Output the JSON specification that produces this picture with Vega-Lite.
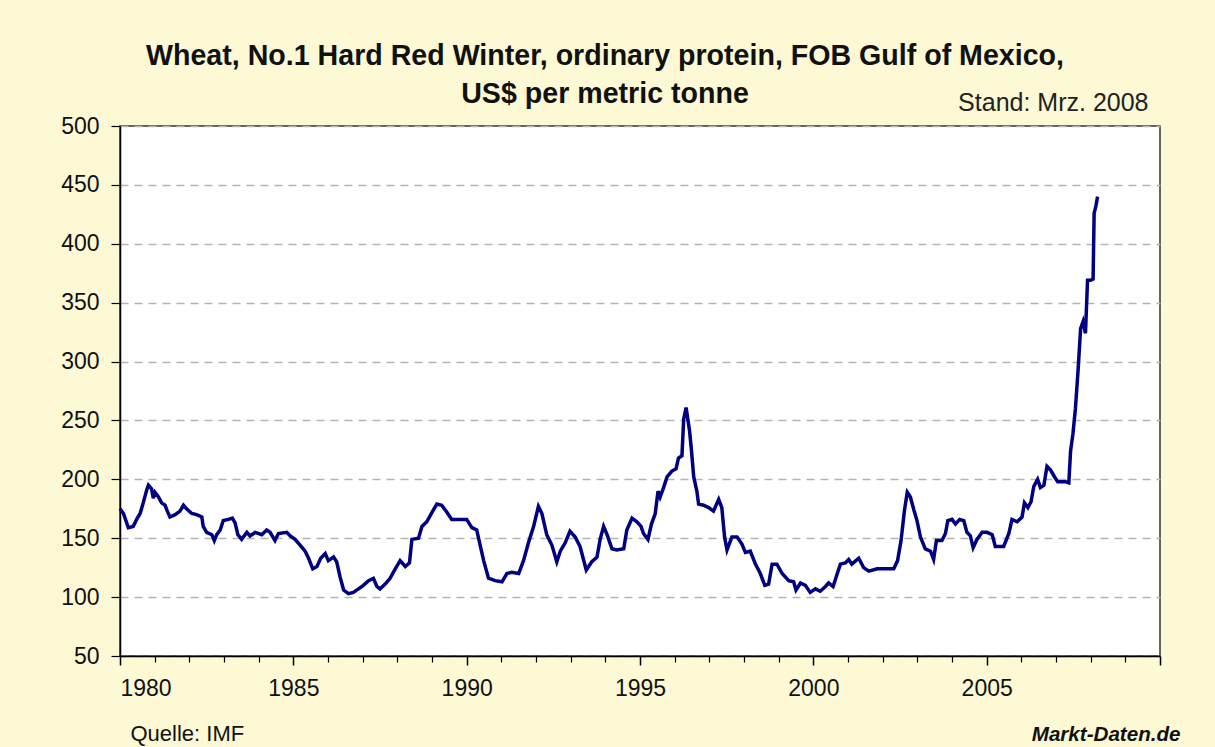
{
  "$schema": "https://vega.github.io/schema/vega-lite/v6.json",
  "width": 1040,
  "height": 530,
  "autosize": "none",
  "padding": {"left": 120, "top": 126, "right": 55, "bottom": 91},
  "background": "#FCF9D4",
  "title": {
    "text": ["Wheat, No.1 Hard Red Winter, ordinary protein, FOB Gulf of Mexico,", "US$ per metric tonne"],
    "font": "Liberation Sans",
    "fontSize": 28.6,
    "fontWeight": "bold",
    "color": "#111111",
    "anchor": "middle",
    "frame": "group",
    "dx": -35,
    "dy": 29,
    "lineHeight": 38,
    "offset": 10
  },
  "config": {
    "view": {"fill": "white", "stroke": "#333333", "strokeWidth": 1.5},
    "font": "Liberation Sans"
  },
  "data": {
    "values": [
      {"t": 1980.00, "v": 175}, {"t": 1980.10, "v": 171}, {"t": 1980.24, "v": 159}, {"t": 1980.38, "v": 160},
      {"t": 1980.48, "v": 166}, {"t": 1980.58, "v": 171}, {"t": 1980.67, "v": 180}, {"t": 1980.77, "v": 191},
      {"t": 1980.82, "v": 195}, {"t": 1980.91, "v": 192}, {"t": 1980.96, "v": 184}, {"t": 1981.01, "v": 189},
      {"t": 1981.11, "v": 185}, {"t": 1981.20, "v": 180}, {"t": 1981.30, "v": 178}, {"t": 1981.35, "v": 174},
      {"t": 1981.44, "v": 168}, {"t": 1981.59, "v": 170}, {"t": 1981.73, "v": 173}, {"t": 1981.83, "v": 178},
      {"t": 1981.92, "v": 175}, {"t": 1982.07, "v": 171}, {"t": 1982.21, "v": 170}, {"t": 1982.36, "v": 168},
      {"t": 1982.40, "v": 160}, {"t": 1982.50, "v": 155}, {"t": 1982.65, "v": 153}, {"t": 1982.72, "v": 148},
      {"t": 1982.79, "v": 153}, {"t": 1982.89, "v": 157}, {"t": 1982.98, "v": 165}, {"t": 1983.13, "v": 166},
      {"t": 1983.24, "v": 167}, {"t": 1983.32, "v": 163}, {"t": 1983.40, "v": 153}, {"t": 1983.51, "v": 149},
      {"t": 1983.66, "v": 155}, {"t": 1983.75, "v": 152}, {"t": 1983.90, "v": 155}, {"t": 1984.09, "v": 153},
      {"t": 1984.23, "v": 157}, {"t": 1984.33, "v": 155}, {"t": 1984.47, "v": 148}, {"t": 1984.57, "v": 154},
      {"t": 1984.81, "v": 155}, {"t": 1984.91, "v": 152}, {"t": 1985.05, "v": 149}, {"t": 1985.20, "v": 144},
      {"t": 1985.34, "v": 139}, {"t": 1985.44, "v": 133}, {"t": 1985.56, "v": 124}, {"t": 1985.68, "v": 126},
      {"t": 1985.79, "v": 133}, {"t": 1985.92, "v": 137}, {"t": 1986.01, "v": 131}, {"t": 1986.16, "v": 134},
      {"t": 1986.25, "v": 130}, {"t": 1986.35, "v": 117}, {"t": 1986.45, "v": 106}, {"t": 1986.59, "v": 103},
      {"t": 1986.73, "v": 104}, {"t": 1986.88, "v": 107}, {"t": 1987.02, "v": 110}, {"t": 1987.17, "v": 114},
      {"t": 1987.31, "v": 116}, {"t": 1987.41, "v": 109}, {"t": 1987.50, "v": 107}, {"t": 1987.65, "v": 111},
      {"t": 1987.79, "v": 116}, {"t": 1987.94, "v": 124}, {"t": 1988.08, "v": 131}, {"t": 1988.23, "v": 126},
      {"t": 1988.35, "v": 129}, {"t": 1988.42, "v": 149}, {"t": 1988.61, "v": 150}, {"t": 1988.71, "v": 160},
      {"t": 1988.85, "v": 164}, {"t": 1989.00, "v": 172}, {"t": 1989.14, "v": 179}, {"t": 1989.28, "v": 178},
      {"t": 1989.43, "v": 172}, {"t": 1989.57, "v": 166}, {"t": 1989.81, "v": 166}, {"t": 1990.00, "v": 166},
      {"t": 1990.15, "v": 159}, {"t": 1990.29, "v": 157}, {"t": 1990.39, "v": 144}, {"t": 1990.49, "v": 131},
      {"t": 1990.63, "v": 116}, {"t": 1990.82, "v": 114}, {"t": 1991.02, "v": 113}, {"t": 1991.16, "v": 120},
      {"t": 1991.30, "v": 121}, {"t": 1991.50, "v": 120}, {"t": 1991.64, "v": 131}, {"t": 1991.78, "v": 146},
      {"t": 1991.93, "v": 160}, {"t": 1992.07, "v": 177}, {"t": 1992.17, "v": 171}, {"t": 1992.31, "v": 153},
      {"t": 1992.46, "v": 144}, {"t": 1992.60, "v": 130}, {"t": 1992.70, "v": 139}, {"t": 1992.84, "v": 146},
      {"t": 1992.98, "v": 156}, {"t": 1993.13, "v": 151}, {"t": 1993.27, "v": 143}, {"t": 1993.45, "v": 123},
      {"t": 1993.61, "v": 130}, {"t": 1993.76, "v": 134}, {"t": 1993.85, "v": 149}, {"t": 1993.95, "v": 160},
      {"t": 1994.05, "v": 153}, {"t": 1994.19, "v": 141}, {"t": 1994.33, "v": 140}, {"t": 1994.53, "v": 141},
      {"t": 1994.62, "v": 157}, {"t": 1994.77, "v": 167}, {"t": 1994.91, "v": 164}, {"t": 1995.03, "v": 160},
      {"t": 1995.10, "v": 154}, {"t": 1995.23, "v": 149}, {"t": 1995.33, "v": 162}, {"t": 1995.44, "v": 171},
      {"t": 1995.52, "v": 190}, {"t": 1995.58, "v": 185}, {"t": 1995.68, "v": 193}, {"t": 1995.78, "v": 202},
      {"t": 1995.92, "v": 207}, {"t": 1996.04, "v": 209}, {"t": 1996.11, "v": 218}, {"t": 1996.21, "v": 220},
      {"t": 1996.26, "v": 251}, {"t": 1996.33, "v": 261}, {"t": 1996.38, "v": 251}, {"t": 1996.43, "v": 241},
      {"t": 1996.48, "v": 226}, {"t": 1996.55, "v": 202}, {"t": 1996.64, "v": 190}, {"t": 1996.69, "v": 179},
      {"t": 1996.83, "v": 178}, {"t": 1996.98, "v": 176}, {"t": 1997.12, "v": 173}, {"t": 1997.27, "v": 183},
      {"t": 1997.36, "v": 176}, {"t": 1997.44, "v": 151}, {"t": 1997.51, "v": 140}, {"t": 1997.65, "v": 151},
      {"t": 1997.80, "v": 151}, {"t": 1997.94, "v": 145}, {"t": 1998.04, "v": 138}, {"t": 1998.18, "v": 139},
      {"t": 1998.33, "v": 128}, {"t": 1998.47, "v": 120}, {"t": 1998.60, "v": 110}, {"t": 1998.71, "v": 111},
      {"t": 1998.81, "v": 128}, {"t": 1998.95, "v": 128}, {"t": 1999.10, "v": 120}, {"t": 1999.29, "v": 114},
      {"t": 1999.43, "v": 113}, {"t": 1999.50, "v": 106}, {"t": 1999.63, "v": 112}, {"t": 1999.77, "v": 110},
      {"t": 1999.91, "v": 104}, {"t": 2000.06, "v": 107}, {"t": 2000.20, "v": 105}, {"t": 2000.35, "v": 109},
      {"t": 2000.44, "v": 112}, {"t": 2000.57, "v": 109}, {"t": 2000.68, "v": 119}, {"t": 2000.78, "v": 128},
      {"t": 2000.92, "v": 129}, {"t": 2001.02, "v": 132}, {"t": 2001.11, "v": 128}, {"t": 2001.31, "v": 133},
      {"t": 2001.45, "v": 125}, {"t": 2001.60, "v": 122}, {"t": 2001.84, "v": 124}, {"t": 2002.08, "v": 124},
      {"t": 2002.32, "v": 124}, {"t": 2002.43, "v": 131}, {"t": 2002.53, "v": 148}, {"t": 2002.63, "v": 174},
      {"t": 2002.71, "v": 189}, {"t": 2002.80, "v": 185}, {"t": 2002.90, "v": 174}, {"t": 2002.99, "v": 165},
      {"t": 2003.09, "v": 151}, {"t": 2003.23, "v": 141}, {"t": 2003.38, "v": 139}, {"t": 2003.47, "v": 132},
      {"t": 2003.55, "v": 148}, {"t": 2003.71, "v": 148}, {"t": 2003.81, "v": 154}, {"t": 2003.88, "v": 165},
      {"t": 2004.00, "v": 166}, {"t": 2004.10, "v": 162}, {"t": 2004.22, "v": 166}, {"t": 2004.34, "v": 165},
      {"t": 2004.43, "v": 155}, {"t": 2004.53, "v": 152}, {"t": 2004.61, "v": 142}, {"t": 2004.72, "v": 149},
      {"t": 2004.87, "v": 155}, {"t": 2005.01, "v": 155}, {"t": 2005.16, "v": 153}, {"t": 2005.25, "v": 143},
      {"t": 2005.49, "v": 143}, {"t": 2005.64, "v": 154}, {"t": 2005.73, "v": 166}, {"t": 2005.88, "v": 164},
      {"t": 2006.02, "v": 168}, {"t": 2006.09, "v": 180}, {"t": 2006.19, "v": 176}, {"t": 2006.28, "v": 181},
      {"t": 2006.36, "v": 194}, {"t": 2006.47, "v": 200}, {"t": 2006.55, "v": 193}, {"t": 2006.65, "v": 195},
      {"t": 2006.74, "v": 211}, {"t": 2006.84, "v": 208}, {"t": 2006.96, "v": 202}, {"t": 2007.05, "v": 198},
      {"t": 2007.27, "v": 198}, {"t": 2007.37, "v": 197}, {"t": 2007.42, "v": 224}, {"t": 2007.49, "v": 239},
      {"t": 2007.56, "v": 260}, {"t": 2007.64, "v": 294}, {"t": 2007.71, "v": 328}, {"t": 2007.78, "v": 334},
      {"t": 2007.85, "v": 324}, {"t": 2007.91, "v": 369}, {"t": 2007.99, "v": 369}, {"t": 2008.07, "v": 370},
      {"t": 2008.10, "v": 426}, {"t": 2008.15, "v": 432}, {"t": 2008.20, "v": 440}
    ]
  },
  "layer": [
    {
      "mark": {"type": "line", "opacity": 0},
      "encoding": {
        "x": {
          "field": "t", "type": "quantitative",
          "scale": {"domain": [1980, 2010], "nice": false, "zero": false},
          "axis": {
            "orient": "bottom",
            "values": [1981, 1982, 1983, 1984, 1986, 1987, 1988, 1989, 1991, 1992, 1993, 1994, 1996, 1997, 1998, 1999, 2001, 2002, 2003, 2004, 2006, 2007, 2008, 2009],
            "labels": false, "domain": false, "grid": false,
            "ticks": true, "tickSize": 6, "tickColor": "#000000", "tickWidth": 1.2,
            "title": "Markt-Daten.de",
            "titleFont": "Liberation Sans", "titleFontStyle": "italic", "titleFontWeight": "bold",
            "titleFontSize": 20.6, "titleColor": "#111111",
            "titleAlign": "right", "titleX": 1060, "titleY": 84, "titleBaseline": "alphabetic"
          }
        },
        "y": {"field": "v", "type": "quantitative", "scale": {"domain": [50, 500], "nice": false, "zero": false}}
      }
    },
    {
      "mark": {"type": "line", "opacity": 0},
      "encoding": {
        "x": {
          "field": "t", "type": "quantitative",
          "axis": {
            "orient": "top",
            "labels": false, "domain": false, "grid": false, "ticks": false,
            "title": "Stand: Mrz. 2008",
            "titleFont": "Liberation Sans", "titleFontWeight": "normal", "titleFontSize": 25, "titleColor": "#222222",
            "titleAlign": "right", "titleX": 1028, "titleY": -16, "titleBaseline": "alphabetic"
          }
        },
        "y": {"field": "v", "type": "quantitative"}
      }
    },
    {
      "mark": {"type": "line", "color": "#000080", "strokeWidth": 3.5, "strokeJoin": "miter"},
      "encoding": {
        "x": {
          "field": "t", "type": "quantitative",
          "axis": {
            "orient": "bottom",
            "values": [1980, 1985, 1990, 1995, 2000, 2005, 2010],
            "format": "d",
            "labelExpr": "datum.value >= 2010 ? '' : datum.label",
            "labelFontSize": 23, "labelColor": "#111111", "labelPadding": 12,
            "grid": false,
            "domainColor": "#000000", "domainWidth": 1.5,
            "tickColor": "#000000", "tickWidth": 1.5, "tickSize": 9,
            "title": "Quelle: IMF",
            "titleFontWeight": "normal", "titleFontSize": 22, "titleColor": "#111111",
            "titleAlign": "left", "titleX": 10, "titleY": 84, "titleBaseline": "alphabetic"
          }
        },
        "y": {
          "field": "v", "type": "quantitative",
          "axis": {
            "values": [50, 100, 150, 200, 250, 300, 350, 400, 450, 500],
            "title": null,
            "labelFontSize": 23, "labelColor": "#111111", "labelPadding": 12,
            "domainColor": "#000000", "domainWidth": 1.5,
            "tickColor": "#000000", "tickWidth": 1.2, "tickSize": 9,
            "grid": true, "gridColor": "#b4b4b4", "gridDash": [8, 6], "gridWidth": 1.5
          }
        }
      }
    }
  ],
  "resolve": {"axis": {"x": "independent"}}
}
